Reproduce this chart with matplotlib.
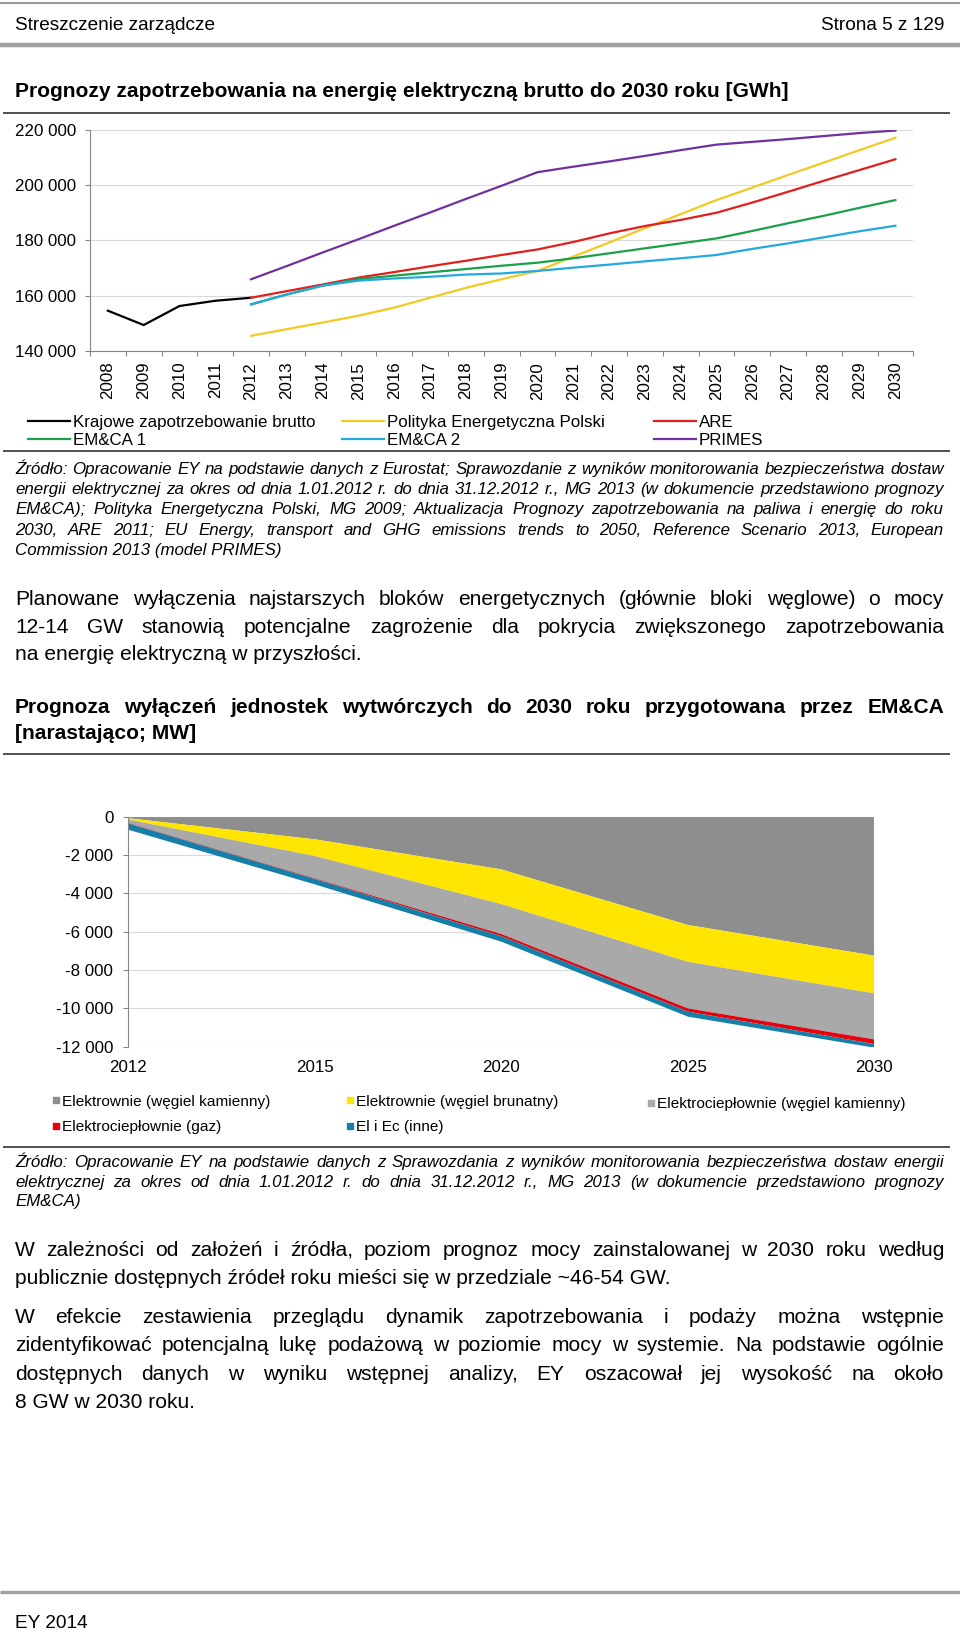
import matplotlib
matplotlib.use("Agg")
import matplotlib.pyplot as plt
from matplotlib.lines import Line2D
from matplotlib.ticker import FuncFormatter
import numpy as np

plt.rcParams['font.family'] = ['Liberation Sans', 'DejaVu Sans']

W, H, DPI = 960, 1632, 100

# ---------------- data: top chart (GWh) ----------------
years = [str(y) for y in range(2008, 2031)]
krajowe = [154500, 149300, 156200, 158100, 159200]                     # 2008-2012
pep = [145400, 147800, 150200, 152700, 155600, 159200, 162800, 165900, 168900,
       174100, 179200, 184400, 189500, 194600, 199100, 203700, 208200, 212700, 217200]
are = [159200, 161600, 164000, 166500, 168500, 170600, 172600, 174700, 176700,
       179400, 182500, 185200, 187400, 190000, 193700, 197600, 201600, 205500, 209400]
emca1 = [156800, 160400, 163600, 166000, 167200, 168400, 169600, 170800, 171900,
         173500, 175300, 177100, 178900, 180700, 183400, 186200, 188900, 191800, 194600]
emca2 = [156800, 160400, 163600, 165400, 166200, 166800, 167600, 168000, 168900,
         170100, 171200, 172400, 173500, 174700, 176900, 178900, 181100, 183300, 185300]
primes = [165900, 170700, 175600, 180400, 185300, 190100, 195000, 199800, 204700,
          206700, 208600, 210600, 212700, 214700, 215700, 216700, 217800, 218900, 219800]
top_names = ["Krajowe zapotrzebowanie brutto", "Polityka Energetyczna Polski", "ARE",
             "EM&CA 1", "EM&CA 2", "PRIMES"]
top_colors = ["#000000", "#f4c922", "#e11f1c", "#1c9f4b", "#23a8e0", "#7030a0"]

# ---------------- data: bottom chart (MW, cumulative) ----------------
b_years = ["2012", "2015", "2020", "2025", "2030"]
ewk = [-80, -1180, -2750, -5650, -7250]       # Elektrownie (wegiel kamienny)
ewb = [-70, -870, -1810, -1920, -1970]        # Elektrownie (wegiel brunatny)
ecwk = [-180, -1170, -1560, -2430, -2400]     # Elektrocieplownie (wegiel kamienny)
ecgaz = [-20, -30, -110, -170, -240]          # Elektrocieplownie (gaz)
inne = [-330, -280, -290, -260, -190]         # El i Ec (inne)
bot_names = ["Elektrownie (węgiel kamienny)", "Elektrownie (węgiel brunatny)",
             "Elektrociepłownie (węgiel kamienny)", "Elektrociepłownie (gaz)", "El i Ec (inne)"]
bot_colors = ["#8e8e8e", "#ffe500", "#a9a9a9", "#e8000b", "#167fa8"]

GRAY = "#868686"
GRID = "#d9d9d9"

fig = plt.figure(figsize=(W / DPI, H / DPI), dpi=DPI)
renderer = fig.canvas.get_renderer()


def fx(x):
    return x / W


def fy(y):
    return 1 - y / H


def pt(px):
    return px * 72.0 / DPI


def hline(y, x0, x1, color, lw):
    fig.add_artist(Line2D([fx(x0), fx(x1)], [fy(y), fy(y)], transform=fig.transFigure,
                          color=color, lw=lw, solid_capstyle='butt'))


def put(s, x, yc, px, ha='left', **kw):
    return fig.text(fx(x), fy(yc + 0.35 * px), s, fontsize=pt(px), ha=ha, va='baseline', **kw)


def paragraph(lines, ys, px, justify_flags, x0=15, x1=944, **kw):
    for line, yc, just in zip(lines, ys, justify_flags):
        if not just:
            put(line, x0, yc, px, **kw)
            continue
        words = line.split(" ")
        texts = [put(w, x0, yc, px, **kw) for w in words]
        widths = [t.get_window_extent(renderer=renderer).width for t in texts]
        gap = (x1 - x0 - sum(widths)) / (len(words) - 1)
        x = x0
        for t, w in zip(texts, widths):
            t.set_x(fx(x))
            x += w + gap


# ---------------- page furniture ----------------
hline(2.5, 0, 960, "#9a9a9a", 1.5)
put("Streszczenie zarządcze", 15, 23, 19)
put("Strona 5 z 129", 944, 23, 19, ha='right')
hline(45, 0, 960, "#a0a0a0", 3.2)
put("Prognozy zapotrzebowania na energię elektryczną brutto do 2030 roku [GWh]", 15, 89.5, 21,
    fontweight='bold')
hline(112.5, 3, 950, "#333333", 1.2)

# ---------------- top chart ----------------
ax1 = fig.add_axes([fx(90), fy(350.7), (913.3 - 90) / W, (350.7 - 130) / H])
xi = np.arange(len(years))
ax1.plot(xi[:5], krajowe, color=top_colors[0], lw=1.6, label=top_names[0])
xs = xi[4:]
for vals, nm, c in zip([pep, are, emca1, emca2, primes], top_names[1:], top_colors[1:]):
    ax1.plot(xs, vals, color=c, lw=1.6, label=nm)
ax1.set_xlim(-0.5, len(years) - 0.5)
ax1.set_ylim(140000, 220000)
ax1.set_yticks(np.arange(140000, 220001, 20000))
ax1.yaxis.set_major_formatter(FuncFormatter(lambda v, p: f"{int(v):,}".replace(",", " ")))
ax1.set_xticks(xi)
ax1.set_xticklabels(years, rotation=90)
ax1.set_xticks(np.arange(-0.5, len(years), 1), minor=True)
ax1.tick_params(axis='x', which='major', length=0, pad=8, labelsize=12.2)
ax1.tick_params(axis='x', which='minor', length=3.6, color=GRAY, width=0.8)
ax1.tick_params(axis='y', length=3.6, color=GRAY, width=0.8, pad=6.5, labelsize=12.2)
ax1.grid(axis='y', color=GRID, lw=0.8)
ax1.set_axisbelow(True)
for s in ['top', 'right']:
    ax1.spines[s].set_visible(False)
for s in ['left', 'bottom']:
    ax1.spines[s].set_color(GRAY)
    ax1.spines[s].set_linewidth(0.8)

handles = {nm: Line2D([], [], color=c, lw=1.6) for nm, c in zip(top_names, top_colors)}
cols = [(28, [top_names[0], top_names[3]]), (342, [top_names[1], top_names[4]]),
        (654, [top_names[2], top_names[5]])]
for x, nms in cols:
    fig.legend([handles[n] for n in nms], nms, loc='center left',
               bbox_to_anchor=(fx(x), fy(431.5)), frameon=False, fontsize=12.2,
               handlelength=42 / 16.9, handletextpad=0.15, borderpad=0, borderaxespad=0,
               labelspacing=0.22)

hline(451, 3, 950, "#333333", 1.2)

src1 = ["Źródło: Opracowanie EY na podstawie danych z Eurostat; Sprawozdanie z wyników monitorowania bezpieczeństwa dostaw",
        "energii elektrycznej za okres od dnia 1.01.2012 r. do dnia 31.12.2012 r., MG 2013 (w dokumencie przedstawiono prognozy",
        "EM&CA); Polityka Energetyczna Polski, MG 2009; Aktualizacja Prognozy zapotrzebowania na paliwa i energię do roku",
        "2030, ARE 2011; EU Energy, transport and GHG emissions trends to 2050, Reference Scenario 2013, European",
        "Commission 2013 (model PRIMES)"]
paragraph(src1, [468.5, 488.3, 508.1, 528.9, 548.7], 16.9, [True, True, True, True, False],
          fontstyle='italic')

body1 = ["Planowane wyłączenia najstarszych bloków energetycznych (głównie bloki węglowe) o mocy",
         "12-14 GW stanowią potencjalne zagrożenie dla pokrycia zwiększonego zapotrzebowania",
         "na energię elektryczną w przyszłości."]
paragraph(body1, [598, 625.5, 652.5], 21, [True, True, False])

title2 = ["Prognoza wyłączeń jednostek wytwórczych do 2030 roku przygotowana przez EM&CA",
          "[narastająco; MW]"]
paragraph(title2, [706, 732], 21, [True, False], fontweight='bold')
hline(754, 3, 950, "#333333", 1.2)

# ---------------- bottom chart ----------------
ax2 = fig.add_axes([fx(128.3), fy(1046.7), (874.3 - 128.3) / W, 230 / H])
bx = np.arange(len(b_years))
ax2.stackplot(bx, ewk, ewb, ecwk, ecgaz, inne, colors=bot_colors, labels=bot_names, lw=0)
ax2.set_xlim(0, len(b_years) - 1)
ax2.set_ylim(-12000, 0)
ax2.set_yticks(np.arange(-12000, 1, 2000))
ax2.yaxis.set_major_formatter(FuncFormatter(lambda v, p: f"{int(v):,}".replace(",", " ")))
ax2.set_xticks(bx)
ax2.set_xticklabels(b_years)
ax2.tick_params(axis='x', length=0, pad=9.5, labelsize=12.2)
ax2.tick_params(axis='y', length=3.6, color=GRAY, width=0.8, pad=7.2, labelsize=12.2)
ax2.grid(axis='y', color=GRID, lw=0.8)
ax2.set_axisbelow(True)
for s in ['top', 'right', 'bottom']:
    ax2.spines[s].set_visible(False)
ax2.spines['left'].set_color(GRAY)
ax2.spines['left'].set_linewidth(0.8)

bh = {nm: Line2D([], [], color=c, marker='s', linestyle='none', markersize=5.0)
      for nm, c in zip(bot_names, bot_colors)}
bcols = [(52.2, [bot_names[0], bot_names[3]], 1114.5),
         (346.2, [bot_names[1], bot_names[4]], 1114.5),
         (647.5, [bot_names[2]], 1104)]
for x, nms, yc in bcols:
    fig.legend([bh[n] for n in nms], nms, loc='center left',
               bbox_to_anchor=(fx(x), fy(yc)), frameon=False, fontsize=11.1,
               handlelength=0.5, handletextpad=0.12, borderpad=0, borderaxespad=0,
               labelspacing=0.76)

hline(1146.5, 3, 950, "#333333", 1.2)

src2 = ["Źródło: Opracowanie EY na podstawie danych z Sprawozdania z wyników monitorowania bezpieczeństwa dostaw energii",
        "elektrycznej za okres od dnia 1.01.2012 r. do dnia 31.12.2012 r., MG 2013 (w dokumencie przedstawiono prognozy",
        "EM&CA)"]
paragraph(src2, [1161, 1181, 1200.5], 16.9, [True, True, False], fontstyle='italic')

body2 = ["W zależności od założeń i źródła, poziom prognoz mocy zainstalowanej w 2030 roku według",
         "publicznie dostępnych źródeł roku mieści się w przedziale ~46-54 GW."]
paragraph(body2, [1248.4, 1276.5], 21, [True, False])

body3 = ["W efekcie zestawienia przeglądu dynamik zapotrzebowania i podaży można wstępnie",
         "zidentyfikować potencjalną lukę podażową w poziomie mocy w systemie. Na podstawie ogólnie",
         "dostępnych danych w wyniku wstępnej analizy, EY oszacował jej wysokość na około",
         "8 GW w 2030 roku."]
paragraph(body3, [1316, 1344, 1372.3, 1400.4], 21, [True, True, True, False])

hline(1592, 0, 960, "#a0a0a0", 2.4)
put("EY 2014", 15, 1621, 19)

fig.savefig("out.png", dpi=DPI)
